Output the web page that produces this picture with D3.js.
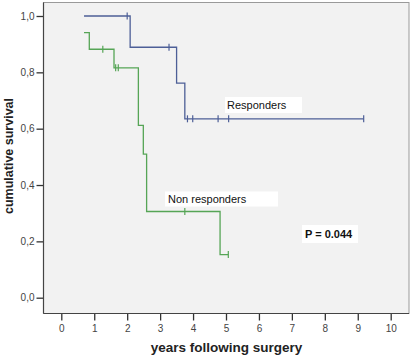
<!DOCTYPE html>
<html><head><meta charset="utf-8">
<script src="https://d3js.org/d3.v7.min.js"></script>
<style>body{margin:0;background:#fff}svg{display:block}</style>
</head><body>
<script>
const xTicks = [0,1,2,3,4,5,6,7,8,9,10];
const yTicks = [0,0.2,0.4,0.6,0.8,1.0];
// Responders: step times and survival
const respTimes = [0.69, 2.09, 3.5, 3.75, 9.18];
const respSurv  = [1.0, 0.889, 0.762, 0.635, 0.635];
const respCensor = [2.0, 3.27, 3.83, 3.99, 4.76, 5.08, 9.18];
const respCensorSurv = [1.0, 0.889, 0.635, 0.635, 0.635, 0.635, 0.635];
// Non responders
const nonTimes = [0.69, 0.85, 1.6, 2.34, 2.49, 2.59, 4.82, 5.07];
const nonSurv  = [0.941, 0.882, 0.816, 0.612, 0.51, 0.306, 0.153, 0.153];
const nonCensor = [1.26, 1.65, 1.73, 3.75, 5.07];
const nonCensorSurv = [0.882, 0.816, 0.816, 0.306, 0.153];

const W = 410, H = 356;
const svg = d3.select("body").append("svg").attr("width", W).attr("height", H);
const x = d3.scaleLinear().domain([0,10]).range([61.3, 390.7]);
const y = d3.scaleLinear().domain([0,1]).range([297.7, 16]);
const plot = {l:43.5, t:2.5, r:409, b:313.5};

svg.append("rect").attr("x", plot.l).attr("y", plot.t)
  .attr("width", plot.r - plot.l).attr("height", plot.b - plot.t)
  .attr("fill", "#f2f2f2").attr("stroke", "#9a9a9a").attr("stroke-width", 1);

const font = "Arial, 'Liberation Sans', sans-serif";
const xAxis = svg.append("g").attr("transform", `translate(0,${plot.b})`)
  .call(d3.axisBottom(x).tickValues(xTicks).tickSize(7).tickPadding(4).tickFormat(d3.format("d")));
xAxis.select(".domain").remove();
const yAxis = svg.append("g").attr("transform", `translate(${plot.l},0)`)
  .call(d3.axisLeft(y).tickValues(yTicks).tickSize(7).tickPadding(2).tickFormat(d => d3.format(".1f")(d).replace(".", ",")));
yAxis.select(".domain").remove();
[xAxis, yAxis].forEach(g => {
  g.selectAll("line").attr("stroke", "#333").attr("stroke-width", 1.3);
  g.selectAll("text").attr("font-family", font).attr("font-size", 10).attr("fill", "#444");
});
svg.append("line").attr("x1", plot.l).attr("x2", plot.l).attr("y1", plot.t).attr("y2", plot.b).attr("stroke", "#444").attr("stroke-width", 1.2);
svg.append("line").attr("x1", plot.l).attr("x2", plot.r).attr("y1", plot.b).attr("y2", plot.b).attr("stroke", "#444").attr("stroke-width", 1.2);

function curve(times, surv, color) {
  const pts = times.map((t,i) => [t, surv[i]]);
  const line = d3.line().x(d => x(d[0])).y(d => y(d[1])).curve(d3.curveStepAfter);
  svg.append("path").attr("d", line(pts)).attr("fill", "none").attr("stroke", color).attr("stroke-width", 1.3);
}
function censors(times, surv, color) {
  svg.append("g").selectAll("line").data(times).join("line")
    .attr("x1", d => x(d)).attr("x2", d => x(d))
    .attr("y1", (d,i) => y(surv[i]) - 3.5).attr("y2", (d,i) => y(surv[i]) + 3.5)
    .attr("stroke", color).attr("stroke-width", 1.2);
}
const blue = "#4d5f97", green = "#56a556";
curve(respTimes, respSurv, blue);
censors(respCensor, respCensorSurv, blue);
curve(nonTimes, nonSurv, green);
censors(nonCensor, nonCensorSurv, green);

function label(txt, bx, by, bw, bh, tx, ty, bold) {
  svg.append("rect").attr("x", bx).attr("y", by).attr("width", bw).attr("height", bh).attr("fill", "#fff");
  svg.append("text").attr("x", tx).attr("y", ty).text(txt)
    .attr("font-family", font).attr("font-size", 11).attr("font-weight", bold ? "bold" : "normal").attr("fill", "#111");
}
label("Responders", 225, 97, 77, 16, 227, 109, false);
label("Non responders", 165, 191.5, 113, 15, 168, 203, false);
label("P = 0.044", 302, 225, 56, 18, 305, 238, true);

svg.append("text").attr("transform", "translate(12.5,156) rotate(-90)").attr("text-anchor", "middle")
  .attr("font-family", font).attr("font-size", 12.5).attr("font-weight", "bold").attr("fill", "#222")
  .text("cumulative survival");
svg.append("text").attr("x", 226.5).attr("y", 352).attr("text-anchor", "middle")
  .attr("font-family", font).attr("font-size", 13.5).attr("font-weight", "bold").attr("fill", "#222")
  .text("years following surgery");
</script>
</body></html>
